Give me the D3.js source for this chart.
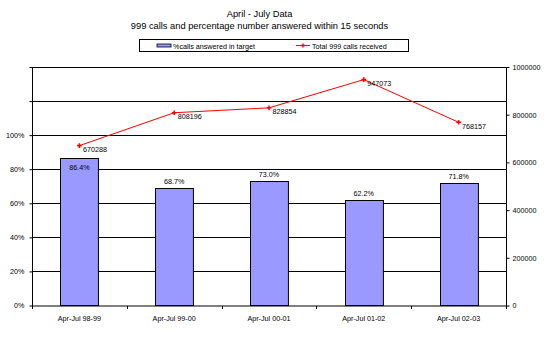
<!DOCTYPE html>
<html><head><meta charset="utf-8">
<script src="https://cdn.jsdelivr.net/npm/d3@7"></script>
<style>
html,body{margin:0;padding:0;background:#fff;}
svg{display:block;font-family:"Liberation Sans",Arial,sans-serif;}
</style></head>
<body>
<svg id="c" width="548" height="337"></svg>
<script>
const categories = ["Apr-Jul 98-99","Apr-Jul 99-00","Apr-Jul 00-01","Apr-Jul 01-02","Apr-Jul 02-03"];
const pctAnswered = [86.4, 68.7, 73.0, 62.2, 71.8];
const totalCalls = [670288, 808196, 828854, 947073, 768157];
const leftTicks = [0, 20, 40, 60, 80, 100, 120, 140];
const leftTickLabels = ["0%","20%","40%","60%","80%","100%","",""];
const rightTicks = [0, 200000, 400000, 600000, 800000, 1000000];
const titleLines = ["April - July Data","999 calls and percentage number answered within 15 seconds"];
const seriesNames = ["%calls answered in target","Total 999 calls received"];

const svg = d3.select("#c");
const L = 32, R = 506, T = 67, B = 305.5;
const FS = 7.2;
const x = d3.scaleBand().domain(categories).range([L, R]).paddingInner(0.6).paddingOuter(0.3);
const xb = d3.scaleBand().domain(categories).range([L, R]);
const yL = d3.scaleLinear().domain([0, 140]).range([B, T]);
const yR = d3.scaleLinear().domain([0, 1000000]).range([B, T]);

// titles
svg.append("text").attr("x", 259.5).attr("y", 17).attr("text-anchor","middle").attr("font-size", 9.3).text(titleLines[0]);
svg.append("text").attr("x", 259.5).attr("y", 29).attr("text-anchor","middle").attr("font-size", 9.3).text(titleLines[1]);

// legend
const lg = svg.append("g");
lg.append("rect").attr("x", 139.5).attr("y", 39.5).attr("width", 269).attr("height", 12).attr("fill","#fff").attr("stroke","#000");
lg.append("rect").attr("x", 157).attr("y", 44).attr("width", 14).attr("height", 3).attr("fill","#9999FF").attr("stroke","#000").attr("stroke-width",0.8);
lg.append("text").attr("x", 173).attr("y", 48.5).attr("font-size", FS).text(seriesNames[0]);
lg.append("line").attr("x1", 296).attr("x2", 310).attr("y1", 45.5).attr("y2", 45.5).attr("stroke","#f00");
lg.append("path").attr("d", d3.symbol(d3.symbolCross, 10)()).attr("transform","translate(303,45.5)").attr("fill","#f00");
lg.append("text").attr("x", 312).attr("y", 48.5).attr("font-size", FS).text(seriesNames[1]);

// gridlines
svg.append("g").selectAll("line").data(leftTicks.filter(d => d > 0)).join("line")
  .attr("x1", L).attr("x2", R).attr("y1", d => Math.round(yL(d)) + 0.5).attr("y2", d => Math.round(yL(d)) + 0.5)
  .attr("stroke", "#000").attr("stroke-width", 1);

// bars
svg.append("g").selectAll("rect").data(pctAnswered).join("rect")
  .attr("x", (d, i) => Math.round(x(categories[i])) + 0.5)
  .attr("y", d => Math.round(yL(d)) + 0.5)
  .attr("width", x.bandwidth())
  .attr("height", d => B - Math.round(yL(d)) - 0.5)
  .attr("fill", "#9999FF").attr("stroke", "#000").attr("stroke-width", 1);

// left axis
const axL = d3.axisLeft(yL).tickValues(leftTicks).tickFormat((d, i) => leftTickLabels[i]).tickSize(3).tickPadding(5);
const gL = svg.append("g").attr("transform", `translate(${L + 0.5},0)`).call(axL);
// right axis
const axR = d3.axisRight(yR).tickValues(rightTicks).tickFormat(d3.format("d")).tickSize(3).tickPadding(3);
const gR = svg.append("g").attr("transform", `translate(${R + 0.5},0)`).call(axR);
// bottom axis
const gB = svg.append("g").attr("transform", `translate(0,${B + 0.5})`);
gB.append("line").attr("x1", L).attr("x2", R + 0.5).attr("stroke", "#000");
gB.selectAll("line.t").data(categories.concat(["end"])).join("line").attr("class","t")
  .attr("x1", (d, i) => Math.round(L + i * xb.step()) + 0.5).attr("x2", (d, i) => Math.round(L + i * xb.step()) + 0.5)
  .attr("y1", 0).attr("y2", 3).attr("stroke", "#000");
gB.selectAll("text").data(categories).join("text")
  .attr("x", d => xb(d) + xb.bandwidth() / 2).attr("y", 15).attr("text-anchor", "middle")
  .attr("font-size", FS).text(d => d);

[gL, gR].forEach(g => {
  g.selectAll(".domain").attr("stroke", "#000");
  g.selectAll(".tick line").attr("stroke", "#000");
  g.selectAll(".tick text").attr("font-size", FS).attr("font-family", "Liberation Sans, Arial, sans-serif").attr("fill","#000");
});
gL.select(".domain").attr("d", `M0,${T}V${B + 0.5}`);
gR.select(".domain").attr("d", `M0,${T}V${B + 0.5}`);

// line series
const cx = i => xb(categories[i]) + xb.bandwidth() / 2;
const line = d3.line().x((d, i) => cx(i)).y(d => yR(d));
svg.append("path").datum(totalCalls).attr("d", line).attr("fill", "none").attr("stroke", "#f00").attr("stroke-width", 1);
svg.append("g").selectAll("path").data(totalCalls).join("path")
  .attr("d", d3.symbol(d3.symbolCross, 12)())
  .attr("transform", (d, i) => `translate(${cx(i)},${yR(d)})`).attr("fill", "#f00");

// line labels
const lineLabelBoxes = [];
svg.append("g").selectAll("text").data(totalCalls).join("text")
  .attr("x", (d, i) => cx(i) + 3.5).attr("y", d => yR(d) + 6.5)
  .attr("font-size", FS).text(d => d)
  .each(function (d, i) { lineLabelBoxes.push(this.getBBox()); });

// bar labels: above bar, moved inside if colliding with line label
svg.append("g").selectAll("text").data(pctAnswered).join("text")
  .attr("x", (d, i) => cx(i)).attr("text-anchor", "middle").attr("font-size", FS)
  .text(d => d.toFixed(1) + "%")
  .each(function (d, i) {
    d3.select(this).attr("y", yL(d) - 4);
    const bb = this.getBBox();
    const lb = lineLabelBoxes[i];
    if (lb && bb.y < lb.y + lb.height && bb.y + bb.height > lb.y) {
      d3.select(this).attr("y", yL(d) + 12);
    }
  });
</script>
</body></html>
